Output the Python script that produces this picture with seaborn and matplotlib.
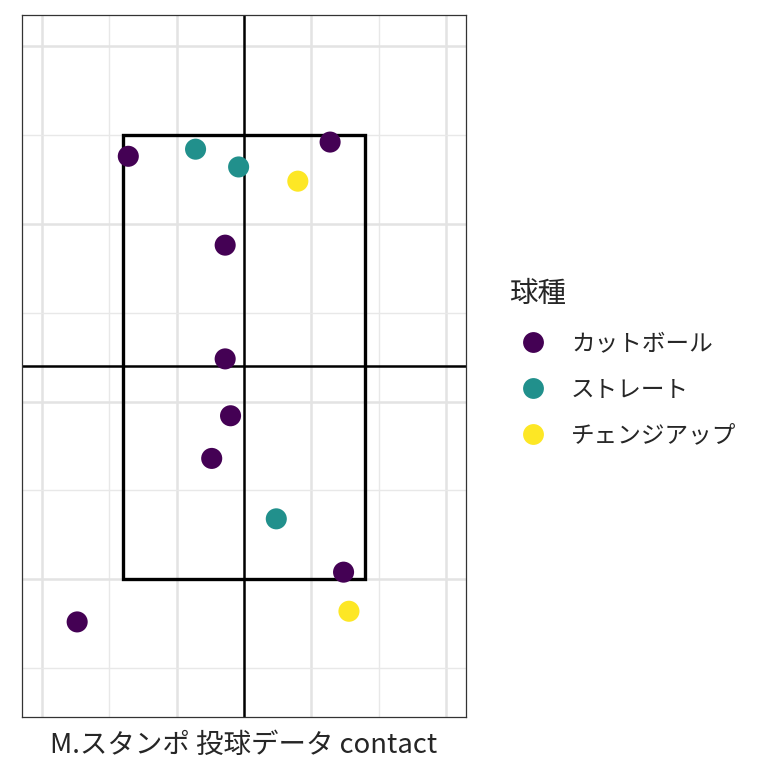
import pandas as pd
import matplotlib
matplotlib.use("Agg")
import matplotlib.pyplot as plt
from matplotlib.patches import Rectangle
from matplotlib.lines import Line2D
import seaborn as sns

# pitch locations (plate x, plate z)
pitch_x = [-0.86, -0.36, -0.04, 0.40, 0.64, -0.14, -0.14, -0.10, -0.24, 0.24, 0.74, 0.78, -1.24]
pitch_z = [3.38, 3.42, 3.32, 3.24, 3.46, 2.88, 2.24, 1.92, 1.68, 1.34, 1.04, 0.82, 0.76]
pitch_type = ["カットボール", "ストレート", "ストレート", "チェンジアップ", "カットボール",
              "カットボール", "カットボール", "カットボール", "カットボール", "ストレート",
              "カットボール", "チェンジアップ", "カットボール"]
type_order = ["カットボール", "ストレート", "チェンジアップ"]
type_colors = ["#440154", "#21908C", "#FDE725"]

zone_x = [-0.9, 0.9]
zone_z = [1.0, 3.5]
center_z = 2.2

df = pd.DataFrame({"x": pitch_x, "z": pitch_z, "球種": pitch_type})

sns.set_style("white")
plt.rcParams["font.family"] = ["Noto Sans CJK JP", "DejaVu Sans"]

fig = plt.figure(figsize=(7.68, 7.68), dpi=100)
ax = fig.add_axes([22 / 768, 1 - 717 / 768, 444 / 768, 702 / 768])

ax.set_xlim(-1.65, 1.65)
ax.set_ylim(0.225, 4.175)
ax.set_xticks([-1.5, -0.5, 0.5, 1.5])
ax.set_xticks([-1.0, 0.0, 1.0], minor=True)
ax.set_yticks([1, 2, 3, 4])
ax.set_yticks([0.5, 1.5, 2.5, 3.5], minor=True)
ax.grid(which="major", color="#e3e3e3", linewidth=1.8)
ax.grid(which="minor", color="#e8e8e8", linewidth=1.0)
ax.set_axisbelow(True)
ax.tick_params(which="both", length=0, labelbottom=False, labelleft=False)
for sp in ax.spines.values():
    sp.set_color("#333333")
    sp.set_linewidth(0.9)

ax.add_patch(Rectangle((zone_x[0], zone_z[0]), zone_x[1] - zone_x[0], zone_z[1] - zone_z[0],
                       fill=False, edgecolor="black", linewidth=2.4, zorder=2))
ax.axvline(0, color="black", linewidth=1.8, zorder=2)
ax.axhline(center_z, color="black", linewidth=1.8, zorder=2)

sns.scatterplot(data=df, x="x", y="z", hue="球種", hue_order=type_order,
                palette=type_colors, s=230, linewidth=0, ax=ax, zorder=3, legend=False)

ax.set_xlabel("")
ax.set_ylabel("")
fig.text(244 / 768, 1 - 745 / 768, "M.スタンポ 投球データ contact",
         ha="center", va="center", fontsize=19.8)

handles = [Line2D([], [], marker="o", linestyle="", markersize=15, markeredgewidth=0,
                  color=c) for c in type_colors]
leg = ax.legend(handles, type_order, loc="center left", bbox_to_anchor=(1.049, 0.504),
                frameon=False, title="球種", fontsize=17, title_fontsize=20.5,
                labelspacing=0.98, handletextpad=0.63)
leg._legend_box.align = "left"

fig.savefig("out.png", dpi=100)
